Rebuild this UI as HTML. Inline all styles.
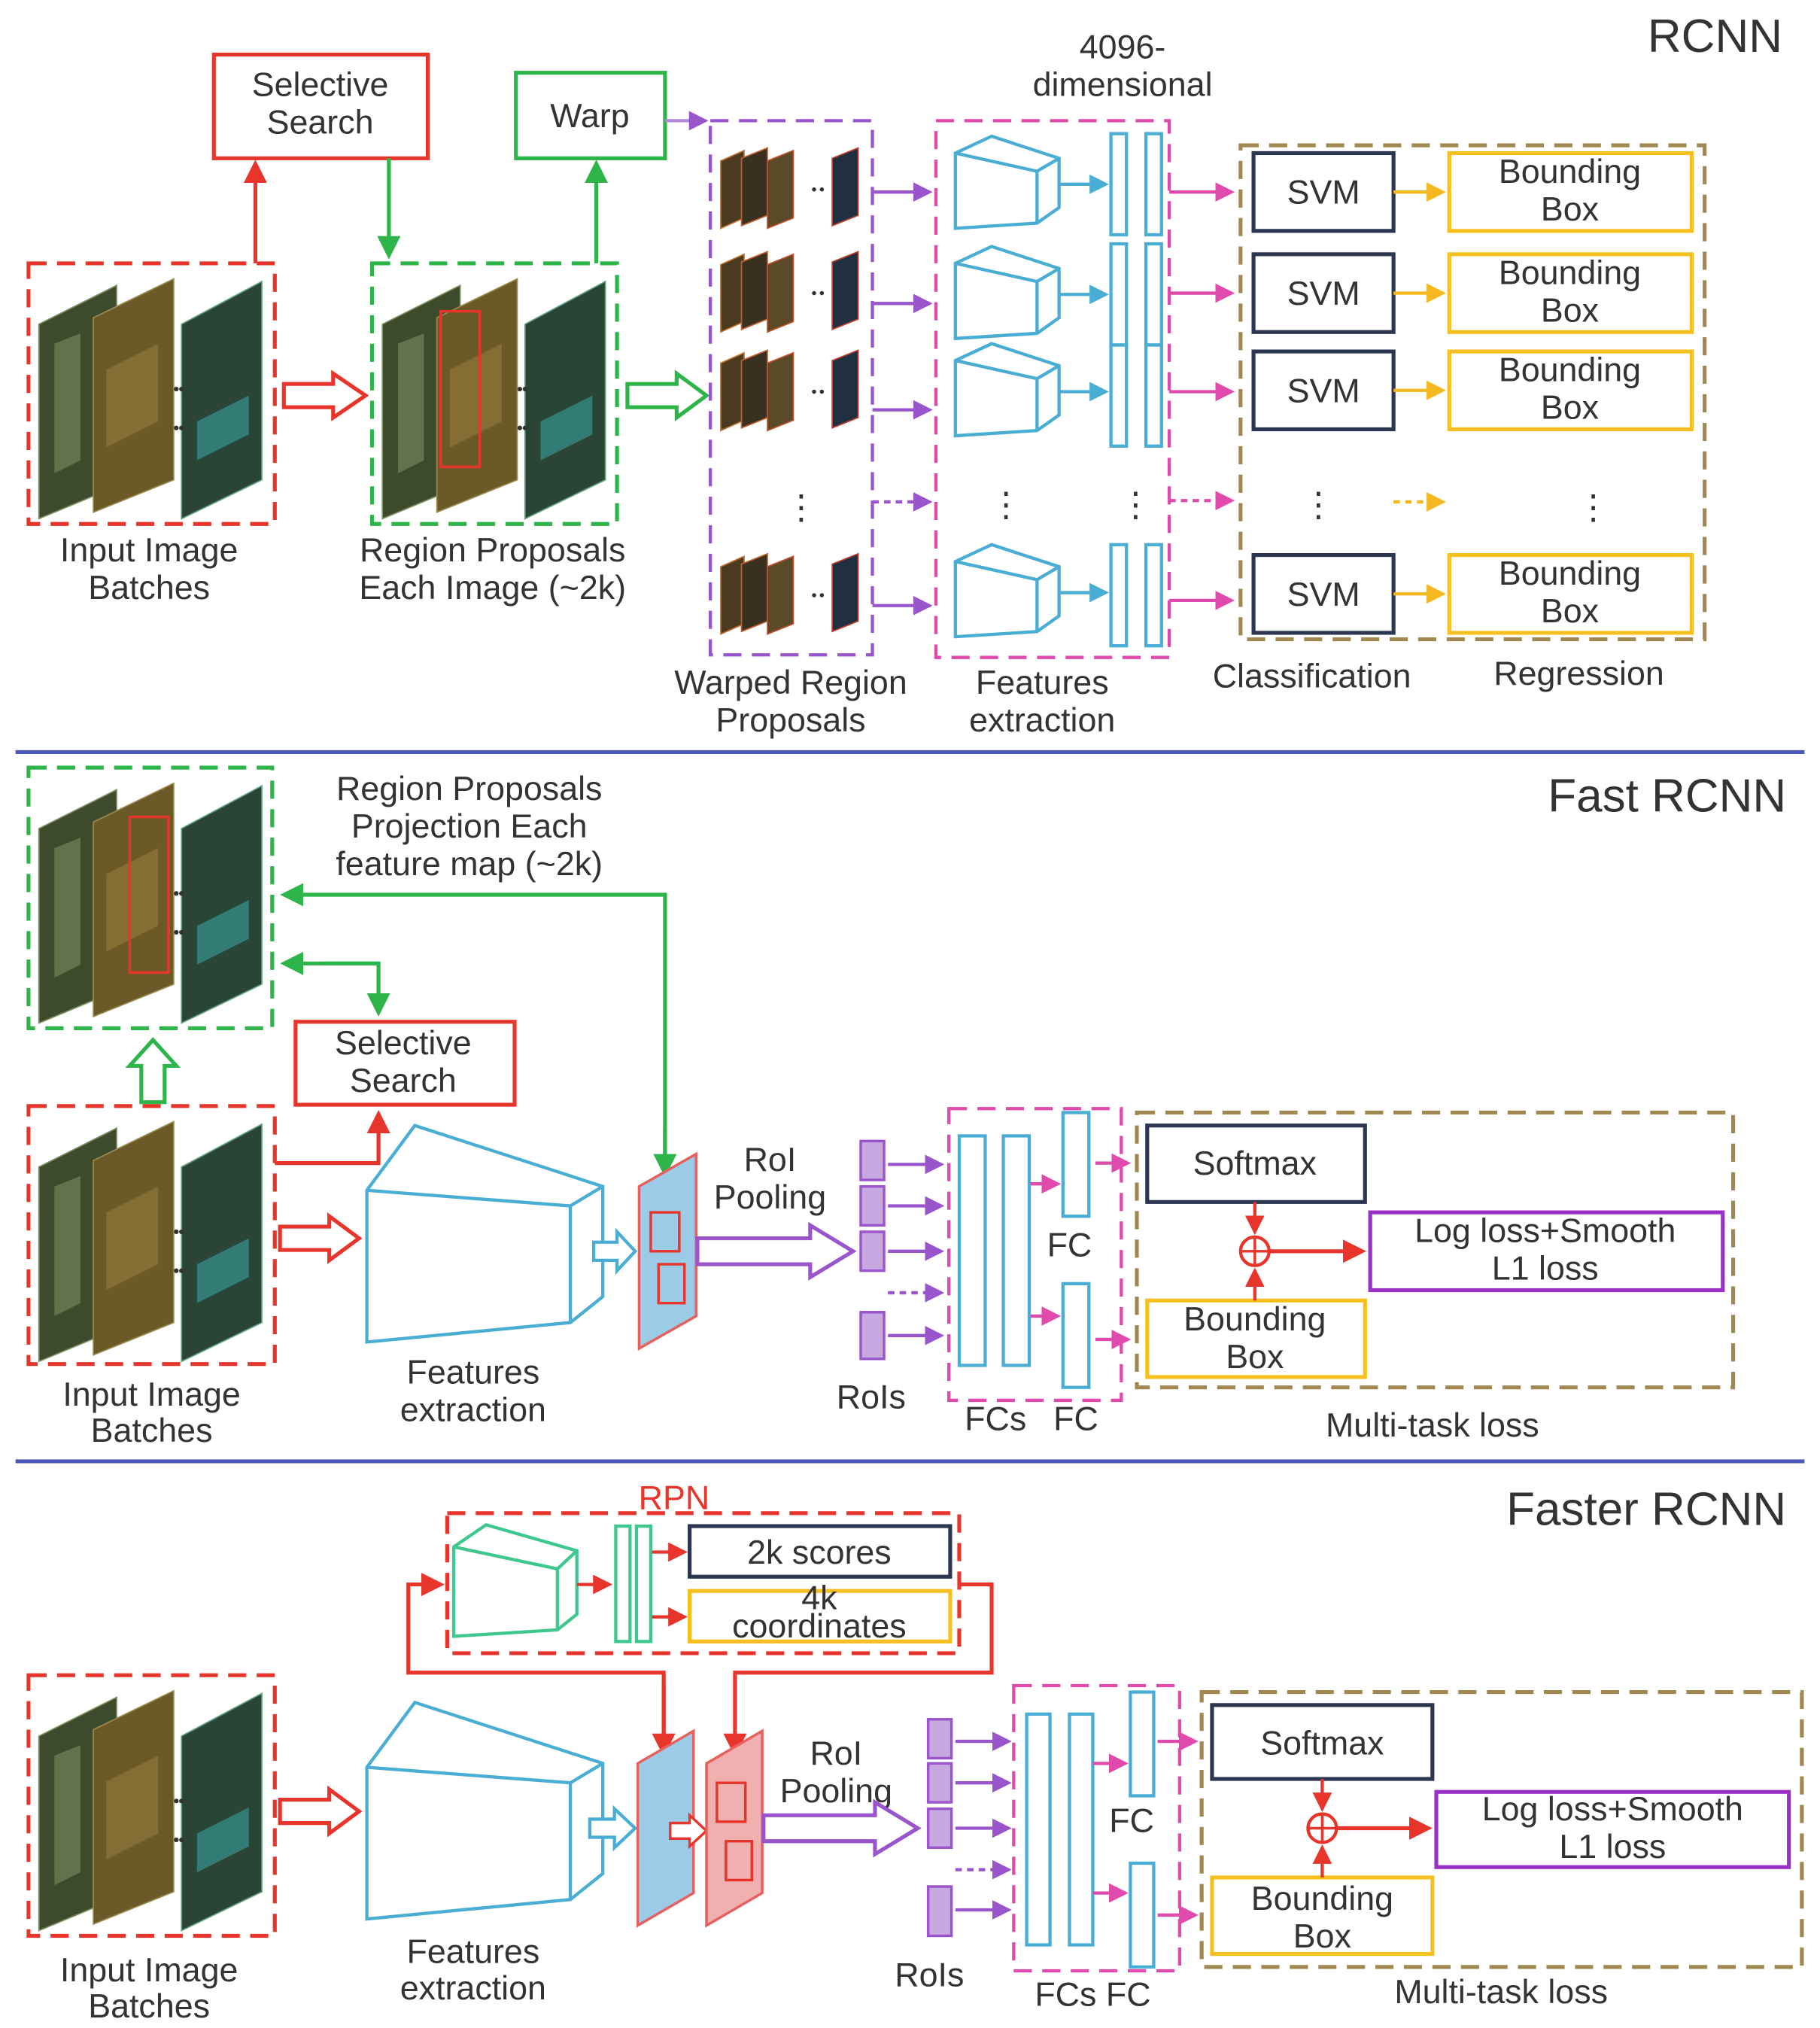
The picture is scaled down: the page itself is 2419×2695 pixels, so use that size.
<!DOCTYPE html>
<html><head><meta charset="utf-8"><style>
html,body{margin:0;padding:0;background:#fff}
svg{display:block}
text{font-family:"Liberation Sans",sans-serif;fill:#333;font-size:26px;text-anchor:middle}
</style></head><body>
<svg width="2419" height="2695" viewBox="0 0 1404 1564" xmlns="http://www.w3.org/2000/svg">
<defs>
<marker id="mr" markerWidth="6" markerHeight="6" refX="5" refY="3" orient="auto" markerUnits="strokeWidth"><path d="M0,0L6,3L0,6z" fill="#e8352c"/></marker>
<marker id="mg" markerWidth="6" markerHeight="6" refX="5" refY="3" orient="auto" markerUnits="strokeWidth"><path d="M0,0L6,3L0,6z" fill="#2eb54a"/></marker>
<marker id="mp" markerWidth="6" markerHeight="6" refX="5" refY="3" orient="auto" markerUnits="strokeWidth"><path d="M0,0L6,3L0,6z" fill="#9a55cc"/></marker>
<marker id="mk" markerWidth="6" markerHeight="6" refX="5" refY="3" orient="auto" markerUnits="strokeWidth"><path d="M0,0L6,3L0,6z" fill="#e04aac"/></marker>
<marker id="mb" markerWidth="6" markerHeight="6" refX="5" refY="3" orient="auto" markerUnits="strokeWidth"><path d="M0,0L6,3L0,6z" fill="#4aaed4"/></marker>
<marker id="my" markerWidth="6" markerHeight="6" refX="5" refY="3" orient="auto" markerUnits="strokeWidth"><path d="M0,0L6,3L0,6z" fill="#f5b820"/></marker>
<g id="stack">
<polygon points="8,45 68,15 68,170 8,195" fill="#3d4a2c" stroke="#7a9060"/>
<polygon points="50,40 112,10 112,165 50,190" fill="#6b5a28" stroke="#9a8a50"/>
<polygon points="118,45 180,12 180,165 118,195" fill="#2a4536" stroke="#60a080"/>
<polygon points="20,60 40,52 40,150 20,160" fill="#8a9a6a" opacity=".5"/>
<polygon points="130,120 170,100 170,130 130,150" fill="#3aa0a0" opacity=".6"/>
<polygon points="60,80 100,60 100,120 60,140" fill="#a08040" opacity=".5"/>
<circle cx="114" cy="95" r="1.8" fill="#333"/><circle cx="118" cy="95" r="1.8" fill="#333"/><circle cx="114" cy="125" r="1.8" fill="#333"/><circle cx="118" cy="125" r="1.8" fill="#333"/>
</g>
<g id="thumbs">
<polygon points="0,12 18,4 18,56 0,64" fill="#4a3a20" stroke="#c07030"/>
<polygon points="16,10 36,2 36,54 16,62" fill="#3a3020" stroke="#c06030"/>
<polygon points="36,12 56,4 56,56 36,64" fill="#5a4a28" stroke="#c05030"/>
<circle cx="72" cy="34" r="1.6" fill="#333"/><circle cx="78" cy="34" r="1.6" fill="#333"/>
<polygon points="86,10 106,2 106,54 86,62" fill="#203040" stroke="#c04030"/>
</g>
<g id="cone" fill="none" stroke="#4aaed4" stroke-width="2.5">
<polygon points="0,13 28,0 80,17 80,55 63,67 0,71"/>
<polyline points="0,13 63,27 80,17"/><line x1="63" y1="27" x2="63" y2="67"/>
</g>
<g id="bigcone" fill="none" stroke="#4aaed4" stroke-width="2.5">
<polygon points="0,50 37,0 182,47 182,132 157,152 0,167"/>
<polyline points="0,50 157,62 182,47"/><line x1="157" y1="62" x2="157" y2="152"/>
</g>
</defs>

<!-- ============ RCNN ============ -->
<text x="1375" y="40" style="text-anchor:end;font-size:36px">RCNN</text>
<rect x="165" y="42" width="165" height="80" fill="none" stroke="#e8352c" stroke-width="3"/>
<text x="247" y="74">Selective</text><text x="247" y="103">Search</text>
<rect x="398" y="56" width="115" height="66" fill="none" stroke="#2eb54a" stroke-width="3"/>
<text x="455" y="98">Warp</text>

<rect x="22" y="203" width="190" height="201" fill="none" stroke="#e8352c" stroke-width="3" stroke-dasharray="14 8"/>
<use href="#stack" x="22" y="205"/>
<rect x="287" y="203" width="189" height="201" fill="none" stroke="#2eb54a" stroke-width="3" stroke-dasharray="14 8"/>
<use href="#stack" x="287" y="205"/>
<rect x="340" y="240" width="30" height="120" fill="none" stroke="#e8352c" stroke-width="2"/>
<line x1="197" y1="203" x2="197" y2="126" stroke="#e8352c" stroke-width="3" marker-end="url(#mr)"/>
<line x1="300" y1="122" x2="300" y2="197" stroke="#2eb54a" stroke-width="3" marker-end="url(#mg)"/>
<line x1="460" y1="203" x2="460" y2="126" stroke="#2eb54a" stroke-width="3" marker-end="url(#mg)"/>
<polygon points="219,296 257,296 257,288 282,305 257,322 257,314 219,314" fill="#fff" stroke="#e8352c" stroke-width="3"/>
<polygon points="484,296 522,296 522,288 545,305 522,322 522,314 484,314" fill="#fff" stroke="#2eb54a" stroke-width="3"/>
<line x1="513" y1="93" x2="544" y2="93" stroke="#b08ad8" stroke-width="2.5" marker-end="url(#mp)"/>
<text x="115" y="433">Input Image</text><text x="115" y="462">Batches</text>
<text x="380" y="433">Region Proposals</text><text x="380" y="462">Each Image (~2k)</text>

<rect x="548" y="93" width="125" height="412" fill="none" stroke="#9a55cc" stroke-width="2.5" stroke-dasharray="14 8"/>
<use href="#thumbs" x="556" y="112"/><use href="#thumbs" x="556" y="192"/><use href="#thumbs" x="556" y="268"/><use href="#thumbs" x="556" y="425"/>
<text x="618" y="400">⋮</text>
<text x="610" y="535">Warped Region</text><text x="610" y="564">Proposals</text>

<text x="866" y="45">4096-</text><text x="866" y="74">dimensional</text>
<rect x="722" y="93" width="180" height="414" fill="none" stroke="#e04aac" stroke-width="2.5" stroke-dasharray="14 8"/>
<g>
<use href="#cone" x="737" y="105"/><use href="#cone" x="737" y="190"/><use href="#cone" x="737" y="265"/><use href="#cone" x="737" y="420"/>
</g>
<g fill="none" stroke="#4aaed4" stroke-width="2.5">
<rect x="857" y="103" width="12" height="78"/><rect x="884" y="103" width="12" height="78"/>
<rect x="857" y="188" width="12" height="78"/><rect x="884" y="188" width="12" height="78"/>
<rect x="857" y="266" width="12" height="78"/><rect x="884" y="266" width="12" height="78"/>
<rect x="857" y="420" width="12" height="78"/><rect x="884" y="420" width="12" height="78"/>
</g>
<g stroke-width="2.5">
<line x1="817" y1="142" x2="853" y2="142" stroke="#4aaed4" marker-end="url(#mb)"/>
<line x1="817" y1="227" x2="853" y2="227" stroke="#4aaed4" marker-end="url(#mb)"/>
<line x1="817" y1="302" x2="853" y2="302" stroke="#4aaed4" marker-end="url(#mb)"/>
<line x1="817" y1="457" x2="853" y2="457" stroke="#4aaed4" marker-end="url(#mb)"/>
<line x1="673" y1="148" x2="717" y2="148" stroke="#9a55cc" marker-end="url(#mp)"/>
<line x1="673" y1="234" x2="717" y2="234" stroke="#9a55cc" marker-end="url(#mp)"/>
<line x1="673" y1="316" x2="717" y2="316" stroke="#9a55cc" marker-end="url(#mp)"/>
<line x1="673" y1="387" x2="717" y2="387" stroke="#9a55cc" stroke-dasharray="5 4" marker-end="url(#mp)"/>
<line x1="673" y1="467" x2="717" y2="467" stroke="#9a55cc" marker-end="url(#mp)"/>
<line x1="902" y1="148" x2="950" y2="148" stroke="#e04aac" marker-end="url(#mk)"/>
<line x1="902" y1="226" x2="950" y2="226" stroke="#e04aac" marker-end="url(#mk)"/>
<line x1="902" y1="302" x2="950" y2="302" stroke="#e04aac" marker-end="url(#mk)"/>
<line x1="902" y1="386" x2="950" y2="386" stroke="#e04aac" stroke-dasharray="5 4" marker-end="url(#mk)"/>
<line x1="902" y1="463" x2="950" y2="463" stroke="#e04aac" marker-end="url(#mk)"/>
</g>
<text x="776" y="398">⋮</text><text x="876" y="398">⋮</text><text x="1017" y="398">⋮</text><text x="1229" y="400">⋮</text>
<text x="804" y="535">Features</text><text x="804" y="564">extraction</text>

<rect x="957" y="112" width="358" height="381" fill="none" stroke="#a08850" stroke-width="3" stroke-dasharray="14 8"/>
<g fill="none" stroke-width="3">
<rect x="967" y="118" width="108" height="60" stroke="#2c3650"/><rect x="1118" y="118" width="187" height="60" stroke="#f5c020"/>
<rect x="967" y="196" width="108" height="60" stroke="#2c3650"/><rect x="1118" y="196" width="187" height="60" stroke="#f5c020"/>
<rect x="967" y="271" width="108" height="60" stroke="#2c3650"/><rect x="1118" y="271" width="187" height="60" stroke="#f5c020"/>
<rect x="967" y="428" width="108" height="60" stroke="#2c3650"/><rect x="1118" y="428" width="187" height="60" stroke="#f5c020"/>
</g>
<g stroke="#f5b820" stroke-width="2.5">
<line x1="1075" y1="148" x2="1113" y2="148" marker-end="url(#my)"/>
<line x1="1075" y1="226" x2="1113" y2="226" marker-end="url(#my)"/>
<line x1="1075" y1="301" x2="1113" y2="301" marker-end="url(#my)"/>
<line x1="1075" y1="387" x2="1113" y2="387" stroke-dasharray="5 4" marker-end="url(#my)"/>
<line x1="1075" y1="458" x2="1113" y2="458" marker-end="url(#my)"/>
</g>
<text x="1021" y="157">SVM</text><text x="1021" y="235">SVM</text><text x="1021" y="310">SVM</text><text x="1021" y="467">SVM</text>
<text x="1211" y="141">Bounding</text><text x="1211" y="170">Box</text>
<text x="1211" y="219">Bounding</text><text x="1211" y="248">Box</text>
<text x="1211" y="294">Bounding</text><text x="1211" y="323">Box</text>
<text x="1211" y="451">Bounding</text><text x="1211" y="480">Box</text>
<text x="1012" y="530">Classification</text><text x="1218" y="528">Regression</text>

<line x1="12" y1="580" x2="1392" y2="580" stroke="#4a58b8" stroke-width="3"/>
<line x1="12" y1="1127" x2="1392" y2="1127" stroke="#4a58b8" stroke-width="3"/>

<!-- ============ Fast RCNN ============ -->
<text x="1378" y="626" style="text-anchor:end;font-size:36px">Fast RCNN</text>
<rect x="22" y="592" width="188" height="201" fill="none" stroke="#2eb54a" stroke-width="3" stroke-dasharray="14 8"/>
<use href="#stack" x="22" y="594"/>
<rect x="100" y="630" width="30" height="120" fill="none" stroke="#e8352c" stroke-width="2"/>
<text x="362" y="617">Region Proposals</text><text x="362" y="646">Projection Each</text><text x="362" y="675">feature map (~2k)</text>
<polyline points="513,905 513,690 219,690" fill="none" stroke="#2eb54a" stroke-width="3" marker-end="url(#mg)"/>
<line x1="513" y1="870" x2="513" y2="905" stroke="#2eb54a" stroke-width="3" marker-end="url(#mg)"/>
<polyline points="292,743 219,743" fill="none" stroke="#2eb54a" stroke-width="3" marker-end="url(#mg)"/>
<polyline points="250,743 292,743 292,781" fill="none" stroke="#2eb54a" stroke-width="3" marker-end="url(#mg)"/>
<rect x="228" y="788" width="169" height="64" fill="none" stroke="#e8352c" stroke-width="3"/>
<text x="311" y="813">Selective</text><text x="311" y="842">Search</text>
<polygon points="109,850 109,822 100,822 118,802 136,822 127,822 127,850" fill="#fff" stroke="#2eb54a" stroke-width="3"/>
<rect x="22" y="853" width="190" height="199" fill="none" stroke="#e8352c" stroke-width="3" stroke-dasharray="14 8"/>
<use href="#stack" x="22" y="855"/>
<polyline points="212,897 292,897 292,859" fill="none" stroke="#e8352c" stroke-width="3" marker-end="url(#mr)"/>
<polygon points="216,946 254,946 254,938 277,955 254,972 254,964 216,964" fill="#fff" stroke="#e8352c" stroke-width="3"/>
<use href="#bigcone" x="283" y="868"/>
<polygon points="458,958 476,958 476,950 490,965 476,980 476,972 458,972" fill="#fff" stroke="#4aaed4" stroke-width="2.5"/>
<polygon points="493,915 537,890 537,1015 493,1040" fill="#9ccbe8" stroke="#e8605c" stroke-width="2"/>
<rect x="502" y="935" width="22" height="30" fill="none" stroke="#e8352c" stroke-width="2"/><rect x="508" y="975" width="20" height="30" fill="none" stroke="#e8352c" stroke-width="2"/>
<text x="594" y="903">RoI</text><text x="594" y="932">Pooling</text>
<polygon points="538,955 625,955 625,945 658,965 625,985 625,975 538,975" fill="#fff" stroke="#9a55cc" stroke-width="3"/>
<g fill="#c8a8e0" stroke="#9a55cc" stroke-width="2">
<rect x="664" y="880" width="18" height="30"/><rect x="664" y="915" width="18" height="30"/><rect x="664" y="950" width="18" height="30"/><rect x="664" y="1012" width="18" height="36"/>
</g>
<text x="672" y="1086">RoIs</text>
<g stroke="#9a55cc" stroke-width="2.5">
<line x1="685" y1="898" x2="726" y2="898" marker-end="url(#mp)"/>
<line x1="685" y1="930" x2="726" y2="930" marker-end="url(#mp)"/>
<line x1="685" y1="965" x2="726" y2="965" marker-end="url(#mp)"/>
<line x1="685" y1="997" x2="726" y2="997" stroke-dasharray="5 4" marker-end="url(#mp)"/>
<line x1="685" y1="1030" x2="726" y2="1030" marker-end="url(#mp)"/>
</g>
<rect x="732" y="855" width="133" height="225" fill="none" stroke="#e04aac" stroke-width="2.5" stroke-dasharray="14 8"/>
<g fill="none" stroke="#4aaed4" stroke-width="2.5">
<rect x="740" y="876" width="20" height="177"/><rect x="774" y="876" width="20" height="177"/>
<rect x="820" y="858" width="20" height="80"/><rect x="820" y="990" width="20" height="80"/>
</g>
<g stroke="#e04aac" stroke-width="2.5">
<line x1="795" y1="913" x2="816" y2="913" marker-end="url(#mk)"/>
<line x1="795" y1="1015" x2="816" y2="1015" marker-end="url(#mk)"/>
<line x1="845" y1="897" x2="870" y2="897" marker-end="url(#mk)"/>
<line x1="845" y1="1033" x2="870" y2="1033" marker-end="url(#mk)"/>
</g>
<text x="825" y="969">FC</text><text x="768" y="1103">FCs</text><text x="830" y="1103">FC</text>
<text x="117" y="1084">Input Image</text><text x="117" y="1112">Batches</text>
<text x="365" y="1067">Features</text><text x="365" y="1096">extraction</text>

<rect x="877" y="858" width="460" height="212" fill="none" stroke="#a08850" stroke-width="3" stroke-dasharray="14 8"/>
<rect x="885" y="868" width="168" height="59" fill="none" stroke="#2c3650" stroke-width="3"/>
<rect x="885" y="1003" width="168" height="59" fill="none" stroke="#f5c020" stroke-width="3"/>
<rect x="1057" y="935" width="272" height="60" fill="none" stroke="#9a30c8" stroke-width="3"/>
<text x="968" y="906">Softmax</text>
<text x="968" y="1026">Bounding</text><text x="968" y="1055">Box</text>
<text x="1192" y="958">Log loss+Smooth</text><text x="1192" y="987">L1 loss</text>
<circle cx="968" cy="965" r="11" fill="none" stroke="#e8352c" stroke-width="2.5"/>
<line x1="957" y1="965" x2="979" y2="965" stroke="#e8352c" stroke-width="2"/><line x1="968" y1="954" x2="968" y2="976" stroke="#e8352c" stroke-width="2"/>
<line x1="968" y1="927" x2="968" y2="950" stroke="#e8352c" stroke-width="2.5" marker-end="url(#mr)"/>
<line x1="968" y1="1003" x2="968" y2="980" stroke="#e8352c" stroke-width="2.5" marker-end="url(#mr)"/>
<line x1="979" y1="965" x2="1051" y2="965" stroke="#e8352c" stroke-width="3" marker-end="url(#mr)"/>
<text x="1105" y="1108">Multi-task loss</text>

<!-- ============ Faster RCNN ============ -->
<text x="1378" y="1176" style="text-anchor:end;font-size:36px">Faster RCNN</text>
<text x="520" y="1164" style="fill:#e8352c">RPN</text>
<rect x="345" y="1167" width="395" height="108" fill="none" stroke="#e8352c" stroke-width="3" stroke-dasharray="14 8"/>
<g fill="none" stroke="#3ec890" stroke-width="2.5">
<polygon points="350,1193 375,1176 445,1196 445,1245 430,1257 350,1262"/>
<polyline points="350,1193 430,1210 445,1196"/><line x1="430" y1="1210" x2="430" y2="1257"/>
<rect x="475" y="1177" width="11" height="89"/><rect x="491" y="1177" width="11" height="89"/>
</g>
<line x1="445" y1="1222" x2="470" y2="1222" stroke="#e8352c" stroke-width="2.5" marker-end="url(#mr)"/>
<line x1="503" y1="1197" x2="528" y2="1197" stroke="#e8352c" stroke-width="2.5" marker-end="url(#mr)"/>
<line x1="503" y1="1247" x2="528" y2="1247" stroke="#e8352c" stroke-width="2.5" marker-end="url(#mr)"/>
<rect x="532" y="1177" width="201" height="39" fill="none" stroke="#2c3650" stroke-width="3"/>
<rect x="532" y="1227" width="201" height="39" fill="none" stroke="#f5c020" stroke-width="3"/>
<text x="632" y="1206">2k scores</text>
<text x="632" y="1241">4k</text><text x="632" y="1263">coordinates</text>
<polyline points="512,1350 512,1290 315,1290 315,1222 340,1222" fill="none" stroke="#e8352c" stroke-width="3" marker-end="url(#mr)"/>
<line x1="512" y1="1300" x2="512" y2="1352" stroke="#e8352c" stroke-width="3" marker-end="url(#mr)"/>
<polyline points="740,1222 765,1222 765,1290 567,1290 567,1352" fill="none" stroke="#e8352c" stroke-width="3" marker-end="url(#mr)"/>

<rect x="22" y="1292" width="190" height="201" fill="none" stroke="#e8352c" stroke-width="3" stroke-dasharray="14 8"/>
<use href="#stack" x="22" y="1294"/>
<text x="115" y="1528">Input Image</text><text x="115" y="1556">Batches</text>
<polygon points="216,1388 254,1388 254,1380 277,1397 254,1414 254,1406 216,1406" fill="#fff" stroke="#e8352c" stroke-width="3"/>
<use href="#bigcone" x="283" y="1313"/>
<text x="365" y="1514">Features</text><text x="365" y="1542">extraction</text>
<polygon points="455,1403 474,1403 474,1395 490,1410 474,1425 474,1417 455,1417" fill="#fff" stroke="#4aaed4" stroke-width="2.5"/>
<polygon points="492,1360 535,1335 535,1460 492,1485" fill="#9ccbe8" stroke="#e8605c" stroke-width="2"/>
<polygon points="517,1406 532,1406 532,1400 545,1412 532,1424 532,1418 517,1418" fill="#fff" stroke="#e8352c" stroke-width="2"/>
<polygon points="545,1360 588,1335 588,1460 545,1485" fill="#f0b0b0" stroke="#e8605c" stroke-width="2"/>
<rect x="553" y="1375" width="22" height="30" fill="none" stroke="#e8352c" stroke-width="2"/><rect x="560" y="1420" width="20" height="30" fill="none" stroke="#e8352c" stroke-width="2"/>
<text x="645" y="1361">RoI</text><text x="645" y="1390">Pooling</text>
<polygon points="589,1400 675,1400 675,1390 708,1410 675,1430 675,1420 589,1420" fill="#fff" stroke="#9a55cc" stroke-width="3"/>
<g fill="#c8a8e0" stroke="#9a55cc" stroke-width="2">
<rect x="716" y="1326" width="18" height="30"/><rect x="716" y="1360" width="18" height="30"/><rect x="716" y="1395" width="18" height="30"/><rect x="716" y="1455" width="18" height="38"/>
</g>
<text x="717" y="1532">RoIs</text>
<g stroke="#9a55cc" stroke-width="2.5">
<line x1="737" y1="1343" x2="778" y2="1343" marker-end="url(#mp)"/>
<line x1="737" y1="1375" x2="778" y2="1375" marker-end="url(#mp)"/>
<line x1="737" y1="1410" x2="778" y2="1410" marker-end="url(#mp)"/>
<line x1="737" y1="1442" x2="778" y2="1442" stroke-dasharray="5 4" marker-end="url(#mp)"/>
<line x1="737" y1="1473" x2="778" y2="1473" marker-end="url(#mp)"/>
</g>
<rect x="782" y="1300" width="128" height="220" fill="none" stroke="#e04aac" stroke-width="2.5" stroke-dasharray="14 8"/>
<g fill="none" stroke="#4aaed4" stroke-width="2.5">
<rect x="792" y="1322" width="18" height="178"/><rect x="825" y="1322" width="18" height="178"/>
<rect x="872" y="1305" width="18" height="80"/><rect x="872" y="1437" width="18" height="80"/>
</g>
<g stroke="#e04aac" stroke-width="2.5">
<line x1="843" y1="1360" x2="868" y2="1360" marker-end="url(#mk)"/>
<line x1="843" y1="1460" x2="868" y2="1460" marker-end="url(#mk)"/>
<line x1="893" y1="1343" x2="922" y2="1343" marker-end="url(#mk)"/>
<line x1="893" y1="1477" x2="922" y2="1477" marker-end="url(#mk)"/>
</g>
<text x="873" y="1413">FC</text><text x="843" y="1547">FCs FC</text>

<rect x="927" y="1305" width="463" height="212" fill="none" stroke="#a08850" stroke-width="3" stroke-dasharray="14 8"/>
<rect x="935" y="1315" width="170" height="57" fill="none" stroke="#2c3650" stroke-width="3"/>
<rect x="935" y="1448" width="170" height="59" fill="none" stroke="#f5c020" stroke-width="3"/>
<rect x="1108" y="1382" width="272" height="58" fill="none" stroke="#9a30c8" stroke-width="3"/>
<text x="1020" y="1353">Softmax</text>
<text x="1020" y="1473">Bounding</text><text x="1020" y="1502">Box</text>
<text x="1244" y="1404">Log loss+Smooth</text><text x="1244" y="1433">L1 loss</text>
<circle cx="1020" cy="1410" r="11" fill="none" stroke="#e8352c" stroke-width="2.5"/>
<line x1="1009" y1="1410" x2="1031" y2="1410" stroke="#e8352c" stroke-width="2"/><line x1="1020" y1="1399" x2="1020" y2="1421" stroke="#e8352c" stroke-width="2"/>
<line x1="1020" y1="1372" x2="1020" y2="1395" stroke="#e8352c" stroke-width="2.5" marker-end="url(#mr)"/>
<line x1="1020" y1="1448" x2="1020" y2="1425" stroke="#e8352c" stroke-width="2.5" marker-end="url(#mr)"/>
<line x1="1031" y1="1410" x2="1102" y2="1410" stroke="#e8352c" stroke-width="3" marker-end="url(#mr)"/>
<text x="1158" y="1545">Multi-task loss</text>
</svg>
</body></html>
